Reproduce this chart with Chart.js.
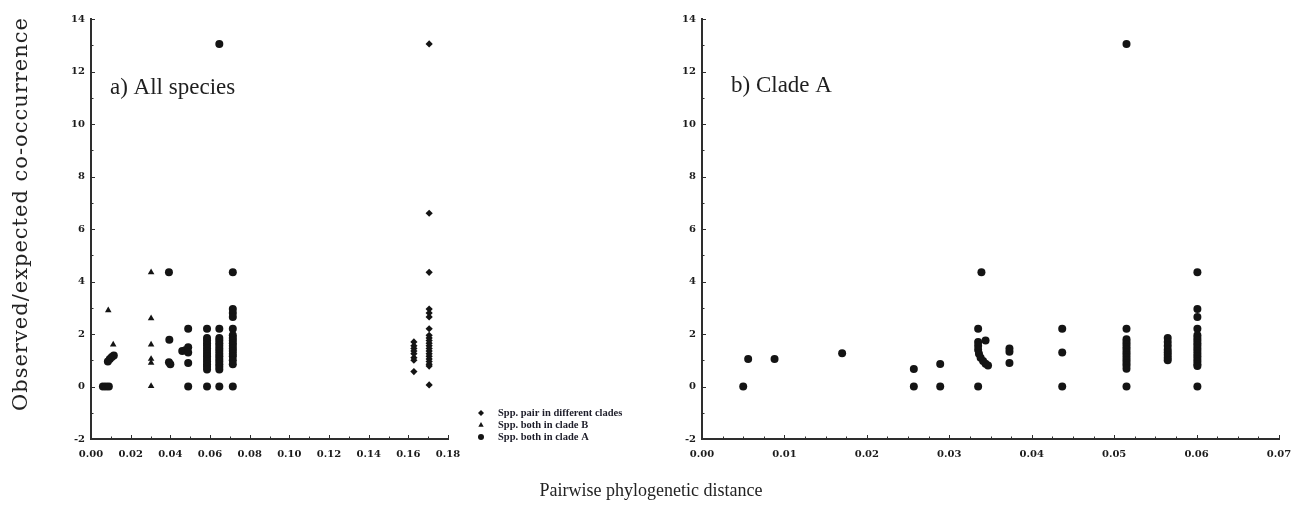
<!DOCTYPE html>
<html><head><meta charset="utf-8">
<script src="https://cdn.jsdelivr.net/npm/chart.js@4.4.1/dist/chart.umd.min.js"></script>
<style>
html,body{margin:0;padding:0;background:#fff;}
#wrap{position:relative;width:1302px;height:512px;overflow:hidden;background:#fff;}
canvas{position:absolute;top:0;}
#cL{left:0;} #cR{left:650px;}
.ytitle{position:absolute;left:20px;top:214px;transform:translate(-50%,-50%) rotate(-90deg);font:21px "DejaVu Serif";letter-spacing:1px;white-space:nowrap;color:#222;}
.xtitle{position:absolute;left:651px;top:490px;transform:translate(-50%,-50%);font:18px "Liberation Serif";white-space:nowrap;color:#222;}
</style></head><body>
<div id="wrap">
<canvas id="cL" width="650" height="512"></canvas>
<canvas id="cR" width="652" height="512"></canvas>
<div class="ytitle">Observed/expected co-occurrence</div>
<div class="xtitle">Pairwise phylogenetic distance</div>
</div>
<script>
// ---- Panel a) All species ----
const seriesNames = ['Spp. pair in different clades', 'Spp. both in clade B', 'Spp. both in clade A'];

const leftDiffX = [0.1705,0.1705,0.1705,0.1705,0.1705,0.1705,0.1705,0.1705,0.1705,0.1705,0.1705,0.1705,0.1705,0.1705,0.1705,0.1705,0.1705,0.1705,0.1705,0.1705,0.1705,
                   0.1628,0.1628,0.1628,0.1628,0.1628,0.1628,0.1628,0.1628];
const leftDiffY = [13.05,6.6,4.35,2.95,2.8,2.65,2.2,1.95,1.85,1.75,1.65,1.55,1.45,1.35,1.25,1.15,1.05,0.95,0.85,0.78,0.06,
                   1.7,1.55,1.45,1.35,1.25,1.1,1.0,0.57];

const leftBX = [0.0087,0.0112,0.0303,0.0303,0.0303,0.0303,0.0303,0.0303];
const leftBY = [2.9,1.6,4.35,2.6,1.6,1.05,0.9,0.02];

const leftAX = [0.0060,0.0075,0.0090,
                0.0085,0.0095,0.0105,0.0115,
                0.0393,0.0395,0.0393,0.0400,
                0.0490,0.0460,0.0475,0.0490,0.0490,0.0490,0.0490,
                0.0585,0.0585,0.0585,0.0585,0.0585,0.0585,0.0585,0.0585,0.0585,0.0585,0.0585,0.0585,0.0585,0.0585,0.0585,
                0.0647,0.0647,0.0647,0.0647,0.0647,0.0647,0.0647,0.0647,0.0647,0.0647,0.0647,0.0647,0.0647,0.0647,0.0647,0.0647,
                0.0715,0.0715,0.0715,0.0715,0.0715,0.0715,0.0715,0.0715,0.0715,0.0715,0.0715,0.0715,0.0715,0.0715,0.0715,0.0715,0.0715];
const leftAY = [0,0,0,
                0.95,1.05,1.12,1.18,
                4.35,1.78,0.92,0.85,
                2.2,1.35,1.38,1.5,1.3,0.9,0,
                2.2,1.85,1.75,1.65,1.55,1.45,1.35,1.25,1.15,1.05,0.95,0.85,0.75,0.65,0,
                13.05,2.2,1.85,1.75,1.65,1.55,1.45,1.35,1.25,1.15,1.05,0.95,0.85,0.75,0.65,0,
                4.35,2.95,2.8,2.65,2.2,1.95,1.85,1.75,1.65,1.55,1.45,1.35,1.25,1.15,1.0,0.85,0];

const leftXTicks = [0,0.02,0.04,0.06,0.08,0.10,0.12,0.14,0.16,0.18];
const leftXTickLabels = ['0.00','0.02','0.04','0.06','0.08','0.10','0.12','0.14','0.16','0.18'];

// ---- Panel b) Clade A ----
const rightAX = [0.0050,0.0056,0.0088,0.0170,0.0257,0.0257,0.0289,0.0289,
                 0.0335,0.0339,0.0335,0.0344,0.0335,0.0335,0.0335,0.0336,0.0338,0.0341,0.0344,0.0347,
                 0.0373,0.0373,0.0373,
                 0.0437,0.0437,0.0437,
                 0.0515,0.0515,0.0515,0.0515,0.0515,0.0515,0.0515,0.0515,0.0515,0.0515,0.0515,0.0515,0.0515,0.0515,0.0515,
                 0.0565,0.0565,0.0565,0.0565,0.0565,0.0565,0.0565,0.0565,
                 0.0601,0.0601,0.0601,0.0601,0.0601,0.0601,0.0601,0.0601,0.0601,0.0601,0.0601,0.0601,0.0601,0.0601,0.0601,0.0601,0.0601,0.0601];
const rightAY = [0,1.05,1.05,1.27,0.67,0,0.86,0,
                 0,4.35,2.2,1.75,1.7,1.55,1.4,1.25,1.1,0.97,0.87,0.8,
                 1.45,1.32,0.9,
                 2.2,1.3,0,
                 13.05,2.2,1.8,1.7,1.6,1.5,1.4,1.3,1.2,1.1,1.0,0.9,0.8,0.68,0,
                 1.85,1.7,1.55,1.4,1.3,1.2,1.1,1.0,
                 4.35,2.95,2.65,2.2,1.95,1.85,1.75,1.65,1.55,1.45,1.35,1.25,1.15,1.05,0.95,0.85,0.78,0];

const rightXTicks = [0,0.01,0.02,0.03,0.04,0.05,0.06,0.07];
const rightXTickLabels = ['0.00','0.01','0.02','0.03','0.04','0.05','0.06','0.07'];

const yTicks = [-2,0,2,4,6,8,10,12,14];
const yTickLabels = ['-2','0','2','4','6','8','10','12','14'];

const zip = (xs, ys) => xs.map((x, i) => ({x: x, y: ys[i]}));

const INK = '#141414';
const AXIS = '#2e2e2e';
const tickFont = {family: '"DejaVu Serif"', size: 10, weight: 'bold'};

const inTicks = {
  id: 'inTicks',
  afterDraw(chart, args, o) {
    const ctx = chart.ctx, xs = chart.scales.x, ys = chart.scales.y, a = chart.chartArea;
    ctx.save();
    ctx.strokeStyle = AXIS; ctx.lineWidth = 1;
    const nY = Math.round((ys.max - ys.min) / o.yMinor);
    for (let i = 0; i <= nY; i++) {
      const v = ys.min + i * o.yMinor;
      const p = Math.round(ys.getPixelForValue(v)) + 0.5;
      const major = (i * o.yMinor) % o.yMajor === 0;
      ctx.beginPath(); ctx.moveTo(a.left, p); ctx.lineTo(a.left + (major ? 4 : 2.5), p); ctx.stroke();
    }
    const nX = Math.round((xs.max - xs.min) / o.xMinor);
    const ratio = Math.round(o.xMajor / o.xMinor);
    for (let i = 0; i <= nX; i++) {
      const v = xs.min + i * o.xMinor;
      const p = Math.round(xs.getPixelForValue(v)) + 0.5;
      const major = i % ratio === 0;
      ctx.beginPath(); ctx.moveTo(p, a.bottom); ctx.lineTo(p, a.bottom - (major ? 4 : 2.5)); ctx.stroke();
    }
    ctx.restore();
  }
};

const panelLabel = {
  id: 'panelLabel',
  afterDraw(chart, args, o) {
    const ctx = chart.ctx;
    ctx.save();
    ctx.fillStyle = '#1e1e1e';
    ctx.font = o.font;
    ctx.textBaseline = 'middle';
    ctx.textAlign = 'left';
    ctx.fillText(o.text, o.x, o.y);
    ctx.restore();
  }
};

function drawMarker(ctx, style, x, y, r) {
  ctx.beginPath();
  if (style === 'circle') {
    ctx.arc(x, y, r, 0, Math.PI * 2);
  } else if (style === 'rectRot') {
    ctx.moveTo(x, y - r); ctx.lineTo(x + r, y); ctx.lineTo(x, y + r); ctx.lineTo(x - r, y); ctx.closePath();
  } else {
    ctx.moveTo(x, y - r); ctx.lineTo(x + r * 0.9, y + r * 0.6); ctx.lineTo(x - r * 0.9, y + r * 0.6); ctx.closePath();
  }
  ctx.fill();
}

const legendPlugin = {
  id: 'legendBox',
  afterDraw(chart, args, o) {
    const ctx = chart.ctx;
    ctx.save();
    chart.data.datasets.forEach((ds, i) => {
      const y = o.y + i * o.gap;
      ctx.fillStyle = INK;
      drawMarker(ctx, ds.pointStyle, o.x, y, 3);
      ctx.fillStyle = '#1e1e2a';
      ctx.font = o.font;
      ctx.textBaseline = 'middle';
      ctx.fillText(ds.label, o.x + 17, y);
    });
    ctx.restore();
  }
};

function scaleOpts(min, max, ticksArr, labelsArr, fitW, fitH, isX) {
  return {
    type: 'linear', min: min, max: max,
    afterBuildTicks: s => { s.ticks = ticksArr.map(v => ({value: v})); },
    afterFit: s => { if (isX) s.height = fitH; else s.width = fitW; },
    ticks: {
      callback: (v, i) => labelsArr[i],
      font: tickFont, color: '#1c1c1c',
      padding: isX ? 9 : 6, maxRotation: 0, autoSkip: false
    },
    grid: {display: true, drawOnChartArea: false, drawTicks: false},
    border: {display: true, color: AXIS, width: 2}
  };
}

new Chart(document.getElementById('cL'), {
  type: 'scatter',
  data: {
    datasets: [
      {label: seriesNames[0], data: zip(leftDiffX, leftDiffY), pointStyle: 'rectRot', pointRadius: 3.6, backgroundColor: INK, borderWidth: 0},
      {label: seriesNames[1], data: zip(leftBX, leftBY), pointStyle: 'triangle', pointRadius: 3.8, backgroundColor: INK, borderWidth: 0},
      {label: seriesNames[2], data: zip(leftAX, leftAY), pointStyle: 'circle', pointRadius: 4, backgroundColor: INK, borderWidth: 0}
    ]
  },
  options: {
    responsive: false, animation: false, events: [],
    layout: {padding: {left: 41, right: 202, top: 19, bottom: 43}},
    plugins: {
      legend: {display: false}, tooltip: {enabled: false},
      inTicks: {xMinor: 0.01, xMajor: 0.02, yMinor: 1, yMajor: 2},
      panelLabel: {text: 'a) All species', x: 110, y: 88, font: '23px "Liberation Serif"'},
      legendBox: {x: 481, y: 413, gap: 12, font: 'bold 10.5px "Liberation Serif"'}
    },
    scales: {
      x: scaleOpts(0, 0.18, leftXTicks, leftXTickLabels, 0, 30, true),
      y: scaleOpts(-2, 14, yTicks, yTickLabels, 50, 0, false)
    }
  },
  plugins: [inTicks, panelLabel, legendPlugin]
});

new Chart(document.getElementById('cR'), {
  type: 'scatter',
  data: {
    datasets: [
      {label: seriesNames[2], data: zip(rightAX, rightAY), pointStyle: 'circle', pointRadius: 4, backgroundColor: INK, borderWidth: 0}
    ]
  },
  options: {
    responsive: false, animation: false, events: [],
    layout: {padding: {left: 12, right: 23, top: 19, bottom: 43}},
    plugins: {
      legend: {display: false}, tooltip: {enabled: false},
      inTicks: {xMinor: 0.0025, xMajor: 0.01, yMinor: 1, yMajor: 2},
      panelLabel: {text: 'b) Clade A', x: 81, y: 86, font: '23px "Liberation Serif"'}
    },
    scales: {
      x: scaleOpts(0, 0.07, rightXTicks, rightXTickLabels, 0, 30, true),
      y: scaleOpts(-2, 14, yTicks, yTickLabels, 40, 0, false)
    }
  },
  plugins: [inTicks, panelLabel]
});
</script>
</body></html>
